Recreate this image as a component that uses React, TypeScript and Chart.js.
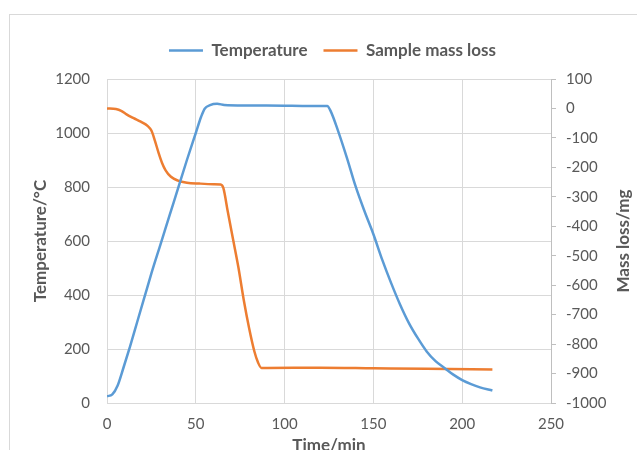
import React, { useEffect, useRef } from "react";
import { Chart, registerables } from "chart.js";

Chart.register(...registerables);

// Temperature series (left axis, °C)
const tempTime = [0, 3, 6, 9, 13, 17, 21, 25, 30, 35, 40, 45, 50, 53, 55, 58, 62, 66, 80, 100, 110, 124, 126, 130, 135, 140, 145, 150, 155, 160, 165, 170, 175, 180, 185, 190, 195, 200, 205, 210, 217];
const tempValues = [25, 32, 65, 125, 210, 300, 390, 480, 585, 690, 795, 900, 1000, 1060, 1090, 1103, 1108, 1104, 1102, 1101, 1100, 1100, 1080, 1010, 910, 802, 710, 625, 530, 444, 365, 296, 240, 191, 155, 130, 105, 85, 70, 58, 46];

// Sample mass loss series (right axis, mg)
const massTime = [0, 5, 8, 11, 15, 19, 23, 25, 27, 29, 31, 33, 36, 40, 45, 52, 60, 64, 65.5, 68, 71, 74, 77, 80, 83, 85, 87, 90, 120, 150, 180, 217];
const massValues = [0, -2, -8, -20, -33, -45, -60, -75, -110, -150, -185, -210, -232, -245, -252, -255, -257, -258, -270, -350, -445, -540, -650, -745, -825, -862, -881, -881, -880, -882, -884, -886];

const seriesNames = ["Temperature", "Sample mass loss"];
const axisTitles = { x: "Time/min", left: "Temperature/°C", right: "Mass loss/mg" };

const FONT = "Lato";
const TEXT = "#595959";
const GRID = "#d9d9d9";
const plain = (v: any) => String(v);

export default function App() {
  const ref = useRef<HTMLCanvasElement | null>(null);

  useEffect(() => {
    if (!ref.current) return;
    const rightTitle = {
      id: "rightTitle",
      afterDraw(chart: any) {
        const ctx = chart.ctx;
        const area = chart.chartArea;
        ctx.save();
        ctx.translate(624, (area.top + area.bottom) / 2);
        ctx.rotate(-Math.PI / 2);
        ctx.font = `bold 17px ${FONT}`;
        ctx.fillStyle = TEXT;
        ctx.textAlign = "center";
        ctx.textBaseline = "middle";
        ctx.fillText(axisTitles.right, 0, 0);
        ctx.restore();
      },
    };
    const legendExtra = {
      id: "legendExtra",
      beforeInit(chart: any) {
        const orig = chart.legend.fit;
        chart.legend.fit = function () {
          orig.bind(this)();
          this.height += 10;
        };
      },
      afterLayout(chart: any) {
        chart.legend.left += 14;
        chart.legend.right += 14;
      },
    };
    const chart = new Chart(ref.current, {
      type: "line",
      data: {
        datasets: [
          {
            label: seriesNames[0],
            data: tempTime.map((t, i) => ({ x: t, y: tempValues[i] })),
            borderColor: "#5B9BD5",
            backgroundColor: "#5B9BD5",
            borderWidth: 2.5,
            pointRadius: 0,
            cubicInterpolationMode: "monotone",
            yAxisID: "y",
          },
          {
            label: seriesNames[1],
            data: massTime.map((t, i) => ({ x: t, y: massValues[i] })),
            borderColor: "#ED7D31",
            backgroundColor: "#ED7D31",
            borderWidth: 2.5,
            pointRadius: 0,
            cubicInterpolationMode: "monotone",
            yAxisID: "y1",
          },
        ],
      },
      options: {
        animation: false,
        responsive: false,
        maintainAspectRatio: false,
        layout: { padding: { top: 26, left: 0, right: 0, bottom: 0 } },
        plugins: {
          tooltip: { enabled: false },
          legend: {
            position: "top",
            labels: {
              usePointStyle: true,
              pointStyle: "line",
              pointStyleWidth: 34,
              boxHeight: 17,
              padding: 16,
              color: TEXT,
              font: { family: FONT, size: 17, weight: "bold" },
            },
          },
        },
        scales: {
          x: {
            type: "linear",
            min: 0,
            max: 250,
            ticks: { stepSize: 50, color: TEXT, padding: 12, callback: plain, font: { family: FONT, size: 15 } },
            grid: { color: GRID, drawTicks: false, lineWidth: 1 },
            border: { color: GRID },
            title: {
              display: true,
              text: axisTitles.x,
              color: TEXT,
              font: { family: FONT, size: 17, weight: "bold" },
              padding: { top: 0, bottom: -6 },
            },
            afterFit(scale: any) {
              scale.height = 47;
            },
          },
          y: {
            position: "left",
            min: 0,
            max: 1200,
            ticks: { stepSize: 200, color: TEXT, padding: 17, callback: plain, font: { family: FONT, size: 15 } },
            grid: { color: GRID, drawTicks: false },
            border: { color: GRID },
            title: {
              display: true,
              text: axisTitles.left,
              color: TEXT,
              font: { family: FONT, size: 17, weight: "bold" },
              padding: { top: 30, bottom: 0 },
            },
            afterFit(scale: any) {
              scale.width = 107;
            },
          },
          y1: {
            position: "right",
            min: -1000,
            max: 100,
            ticks: { stepSize: 100, color: TEXT, padding: 10, callback: plain, font: { family: FONT, size: 15 } },
            grid: { drawOnChartArea: false, color: "#bfbfbf", tickLength: 5 },
            border: { color: "#bfbfbf" },
            afterFit(scale: any) {
              scale.width = 86;
            },
          },
        },
      },
      plugins: [rightTitle, legendExtra],
    } as any);
    return () => chart.destroy();
  }, []);

  return (
    <div style={{ position: "fixed", left: 0, top: 0, width: 637, height: 450, background: "#fff", overflow: "hidden" }}>
      <div
        style={{
          position: "absolute",
          left: 9,
          top: 14,
          width: 700,
          height: 500,
          border: "1.5px solid #d9d9d9",
          boxSizing: "border-box",
        }}
      />
      <canvas ref={ref} width={637} height={450} style={{ position: "absolute", left: 0, top: 0 }} />
    </div>
  );
}
